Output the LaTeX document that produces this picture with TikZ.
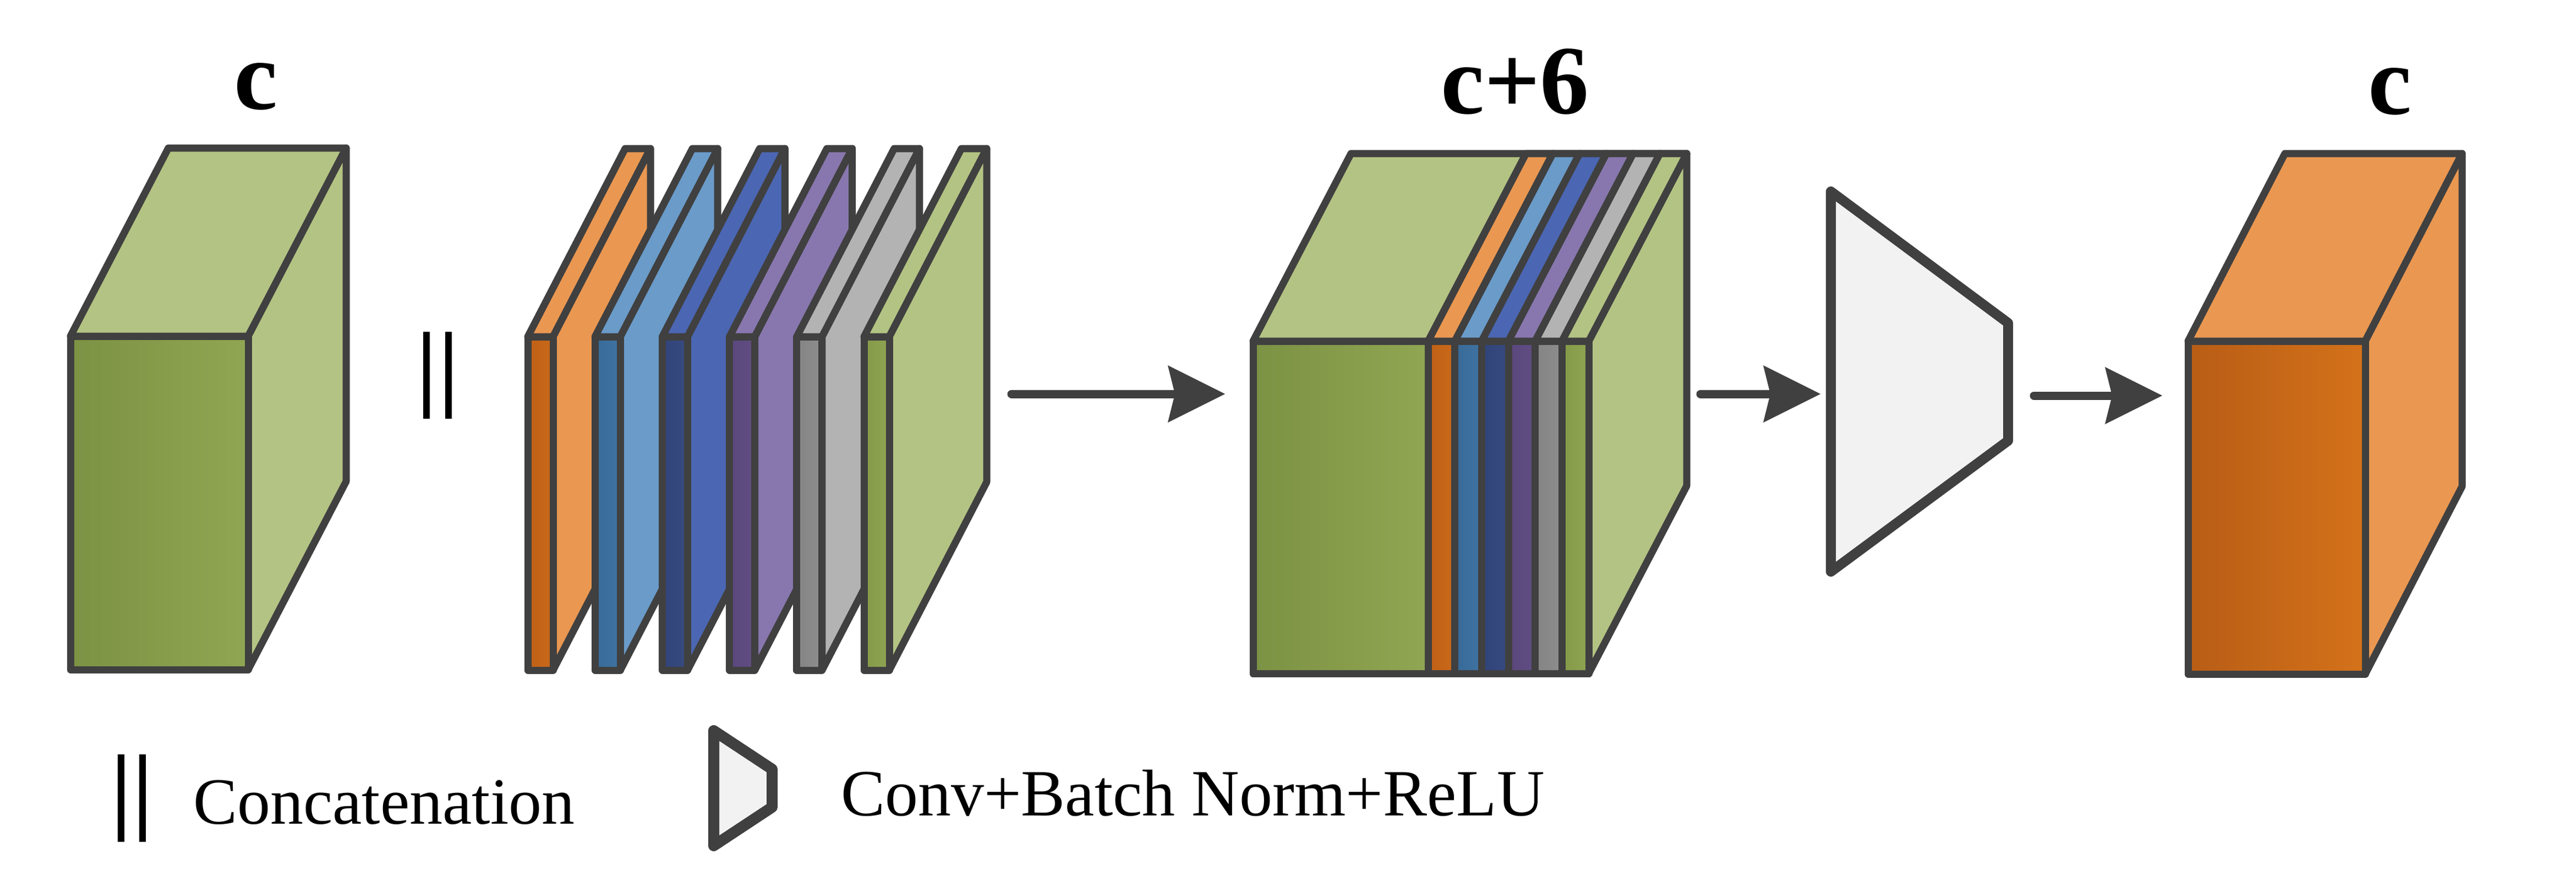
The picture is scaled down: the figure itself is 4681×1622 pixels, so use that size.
\documentclass[tikz,border=0pt]{standalone}
\usepackage{fontspec}
\setmainfont{Liberation Serif}
\usetikzlibrary{arrows.meta}
\definecolor{edgec}{HTML}{404040}
\definecolor{gL}{HTML}{B3C383}
\definecolor{gD1}{HTML}{7C9244}
\definecolor{gD2}{HTML}{90A652}
\definecolor{oL}{HTML}{EA9751}
\definecolor{oD1}{HTML}{BF6017}
\definecolor{oD2}{HTML}{C8691A}
\definecolor{oC1}{HTML}{B85D16}
\definecolor{oC2}{HTML}{D4721A}
\definecolor{lbL}{HTML}{6A9BC9}
\definecolor{lbD1}{HTML}{386A98}
\definecolor{lbD2}{HTML}{3F73A2}
\definecolor{bL}{HTML}{4B66B2}
\definecolor{bD1}{HTML}{31447A}
\definecolor{bD2}{HTML}{374A80}
\definecolor{pL}{HTML}{8877AE}
\definecolor{pD1}{HTML}{5A477C}
\definecolor{pD2}{HTML}{614D83}
\definecolor{yL}{HTML}{B3B3B3}
\definecolor{yD1}{HTML}{848484}
\definecolor{yD2}{HTML}{8D8D8D}
\definecolor{gS1}{HTML}{849A48}
\definecolor{gS2}{HTML}{8EA452}
\definecolor{trapfill}{HTML}{F2F2F2}
\tikzset{
  edge/.style={draw=edgec, line width=13pt, line join=round},
  trap/.style={draw=edgec, fill=trapfill, line width=18pt, line join=round},
  bar/.style={draw=black, line width=12pt},
  conn/.style={draw=edgec, line width=15pt, line cap=round,
    -{Stealth[length=104pt, width=104pt, inset=13pt, line width=0pt]}},
  lab/.style={font=\fontsize{178}{190}\selectfont\bfseries, inner sep=0pt, anchor=base},
  legtext/.style={font=\fontsize{120}{130}\selectfont, inner sep=0pt, anchor=base west}
}
% x, top, w, h, dx, dy, side colour, front left colour, front right colour
\newcommand\mybox[9]{%
  \filldraw[edge, fill=#7] (#1,#2) -- ({#1+#5},{#2-#6}) -- ({#1+#3+#5},{#2-#6}) -- ({#1+#3},#2) -- cycle;
  \filldraw[edge, fill=#7] ({#1+#3},#2) -- ({#1+#3+#5},{#2-#6}) -- ({#1+#3+#5},{#2+#4-#6}) -- ({#1+#3},{#2+#4}) -- cycle;
  \path[edge, left color=#8, right color=#9] (#1,#2) rectangle ({#1+#3},{#2+#4});
}
% top stripe: x, top, w, dx, dy, colour
\newcommand\topstripe[6]{%
  \filldraw[edge, fill=#6] (#1,#2) -- ({#1+#4},{#2-#5}) -- ({#1+#3+#4},{#2-#5}) -- ({#1+#3},#2) -- cycle;
}
\begin{document}
\begin{tikzpicture}[x=1pt, y=-1pt]
\useasboundingbox[fill=white] (0,0) rectangle (4681,1622);

% ---- cube 1 (c)
\mybox{128}{611}{323}{606}{178}{342}{gL}{gD1}{gD2}
\node[lab] (lc1) at (465,198) {c};

% ---- concatenation bars
\draw[bar] (775,603) -- (775,761);
\draw[bar] (815,603) -- (815,761);

% ---- six slices
\mybox{959}{612}{46}{606}{177}{342}{oL}{oD1}{oD2}
\mybox{1081.2}{612}{46}{606}{177}{342}{lbL}{lbD1}{lbD2}
\mybox{1203.4}{612}{46}{606}{177}{342}{bL}{bD1}{bD2}
\mybox{1325.6}{612}{46}{606}{177}{342}{pL}{pD1}{pD2}
\mybox{1447.8}{612}{46}{606}{177}{342}{yL}{yD1}{yD2}
\mybox{1570}{612}{46}{606}{177}{342}{gL}{gS1}{gS2}

% ---- arrow 1
\coordinate (a1s) at (1838,716);
\coordinate (a1e) at (2226,716);
\draw[conn] (a1s) -- (a1e);

% ---- cube 2 (c+6)
\mybox{2277}{620}{610}{604}{178}{341}{gL}{gD1}{gD2}
\topstripe{2595}{620}{48.67}{178}{341}{oL}
\topstripe{2643.67}{620}{48.67}{178}{341}{lbL}
\topstripe{2692.33}{620}{48.67}{178}{341}{bL}
\topstripe{2741}{620}{48.67}{178}{341}{pL}
\topstripe{2789.67}{620}{48.67}{178}{341}{yL}
\topstripe{2838.33}{620}{48.67}{178}{341}{gL}
\path[edge, left color=gD1, right color=gD2] (2277,620) rectangle (2595,1224);
\path[edge, left color=oD1, right color=oD2] (2595,620) rectangle (2643.67,1224);
\path[edge, left color=lbD1, right color=lbD2] (2643.67,620) rectangle (2692.33,1224);
\path[edge, left color=bD1, right color=bD2] (2692.33,620) rectangle (2741,1224);
\path[edge, left color=pD1, right color=pD2] (2741,620) rectangle (2789.67,1224);
\path[edge, left color=yD1, right color=yD2] (2789.67,620) rectangle (2838.33,1224);
\path[edge, left color=gS1, right color=gS2] (2838.33,620) rectangle (2887,1224);
\node[lab] (lc2) at (2753,206) {c+6};

% ---- arrow 2
\coordinate (a2s) at (3090,716);
\coordinate (a2e) at (3308,716);
\draw[conn] (a2s) -- (a2e);

% ---- conv block
\filldraw[trap] (3327,348) -- (3649,587) -- (3649,801) -- (3327,1039) -- cycle;

% ---- arrow 3
\coordinate (a3s) at (3696,719);
\coordinate (a3e) at (3929,719);
\draw[conn] (a3s) -- (a3e);

% ---- cube 3 (c)
\mybox{3976}{620}{322}{605}{176}{341}{oL}{oC1}{oC2}
\node[lab] (lc3) at (4343,207) {c};

% ---- legend
\draw[bar] (219.5,1371) -- (219.5,1530);
\draw[bar] (258.5,1371) -- (258.5,1530);
\node[legtext] (lconcat) at (351,1497) {Concatenation};
\filldraw[trap, line width=20pt] (1297,1328) -- (1403,1398) -- (1403,1467) -- (1297,1537) -- cycle;
\node[legtext] (lconv) at (1528,1482) {Conv+Batch Norm+ReLU};
\end{tikzpicture}
\end{document}
